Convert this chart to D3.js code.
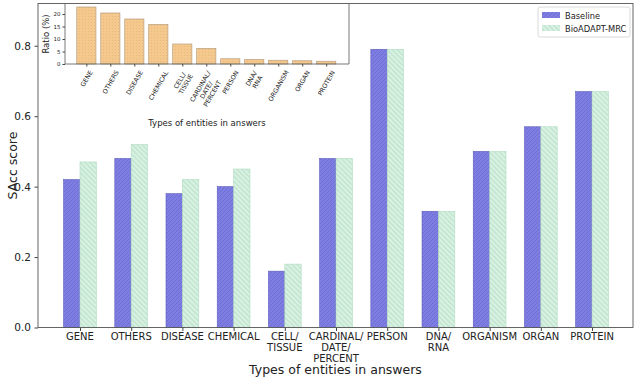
<!DOCTYPE html>
<html>
<head>
<meta charset="utf-8">
<script src="https://cdn.jsdelivr.net/npm/d3@7"></script>
<style>
  body { margin: 0; background: #fff; }
  text { font-family: "DejaVu Sans", sans-serif; fill: #222; }
</style>
</head>
<body>
<script>
// values
var categories = ['GENE', 'OTHERS', 'DISEASE', 'CHEMICAL', 'CELL/\nTISSUE',
    'CARDINAL/\nDATE/\nPERCENT', 'PERSON', 'DNA/\nRNA', 'ORGANISM', 'ORGAN', 'PROTEIN'];
var baseline = [0.42, 0.48, 0.38, 0.40, 0.16, 0.48, 0.79, 0.33, 0.50, 0.57, 0.67];
var bioadapt = [0.47, 0.52, 0.42, 0.45, 0.18, 0.48, 0.79, 0.33, 0.50, 0.57, 0.67];
var ratio = [22.8, 20.4, 18.0, 15.8, 8.0, 6.2, 2.1, 1.8, 1.5, 1.3, 1.1];
var yTicks = [0.0, 0.2, 0.4, 0.6, 0.8];
var ratioTicks = [0, 5, 10, 15, 20];
var seriesNames = ['Baseline', 'BioADAPT-MRC'];

var width = 638, height = 380;
var margin = {left: 38, right: 633, top: 3.5, bottom: 327.5};

var svg = d3.select('body').append('svg')
    .attr('width', width)
    .attr('height', height);

// hatch patterns
var defs = svg.append('defs');
var pBlue = defs.append('pattern').attr('id', 'hBlue')
    .attr('patternUnits', 'userSpaceOnUse').attr('width', 4).attr('height', 4);
pBlue.append('rect').attr('width', 4).attr('height', 4).attr('fill', '#7d7de2');
pBlue.append('path').attr('d', 'M0,4 L4,0 M-1,1 L1,-1 M3,5 L5,3')
    .attr('stroke', '#6b6bd0').attr('stroke-width', 0.8);

var pGreen = defs.append('pattern').attr('id', 'hGreen')
    .attr('patternUnits', 'userSpaceOnUse').attr('width', 5).attr('height', 5);
pGreen.append('rect').attr('width', 5).attr('height', 5).attr('fill', '#c4e8d2');
pGreen.append('path').attr('d', 'M0,0 L5,5 M-1,4 L1,6 M4,-1 L6,1')
    .attr('stroke', '#e6f5ec').attr('stroke-width', 1.2);

var pOrange = defs.append('pattern').attr('id', 'hOrange')
    .attr('patternUnits', 'userSpaceOnUse').attr('width', 3).attr('height', 3);
pOrange.append('rect').attr('width', 3).attr('height', 3).attr('fill', '#f5c98e');
pOrange.append('circle').attr('cx', 1.5).attr('cy', 1.5).attr('r', 0.5).attr('fill', '#e3b477');

// ---- main axes ----
var x = d3.scaleLinear().domain([-0.82, 10.8]).range([margin.left, margin.right]);
var y = d3.scaleLinear().domain([0, 0.92]).range([margin.bottom, margin.top]);
var bw = x(0.32) - x(0);

var main = svg.append('g');

main.selectAll('rect.base')
    .data(baseline)
    .enter().append('rect')
    .attr('class', 'base')
    .attr('x', function(d, i) { return x(i) - bw; })
    .attr('y', function(d) { return y(d); })
    .attr('width', bw)
    .attr('height', function(d) { return y(0) - y(d); })
    .attr('fill', 'url(#hBlue)')
    .attr('stroke', '#5c5cb8')
    .attr('stroke-width', 0.6);

main.selectAll('rect.bio')
    .data(bioadapt)
    .enter().append('rect')
    .attr('class', 'bio')
    .attr('x', function(d, i) { return x(i); })
    .attr('y', function(d) { return y(d); })
    .attr('width', bw)
    .attr('height', function(d) { return y(0) - y(d); })
    .attr('fill', 'url(#hGreen)')
    .attr('stroke', '#b0dcc2')
    .attr('stroke-width', 0.6);

// y axis
var yAxis = main.append('g')
    .attr('transform', 'translate(' + margin.left + ',0)')
    .call(d3.axisLeft(y).tickValues(yTicks).tickFormat(d3.format('.1f')).tickSize(3.5).tickPadding(3.5));
yAxis.select('.domain').remove();
yAxis.selectAll('line').attr('stroke', '#444');
yAxis.selectAll('text').style('font-size', '10.5px').attr('fill', '#222')
    .style('font-family', '"DejaVu Sans", sans-serif');

// x axis
var xAxis = main.append('g')
    .attr('transform', 'translate(0,' + margin.bottom + ')')
    .call(d3.axisBottom(x).tickValues(d3.range(categories.length)).tickFormat('').tickSize(3.5));
xAxis.select('.domain').remove();
xAxis.selectAll('line').attr('stroke', '#444');

categories.forEach(function(c, i) {
    var t = main.append('text')
        .attr('text-anchor', 'middle')
        .attr('x', x(i))
        .attr('y', margin.bottom + 12)
        .style('font-size', '10px');
    c.split('\n').forEach(function(line, j) {
        t.append('tspan').attr('x', x(i)).attr('dy', j === 0 ? 0 : 11).text(line);
    });
});

// frame
main.append('rect')
    .attr('x', margin.left).attr('y', margin.top)
    .attr('width', margin.right - margin.left).attr('height', margin.bottom - margin.top)
    .attr('fill', 'none').attr('stroke', '#555').attr('stroke-width', 0.9);

main.append('text')
    .attr('x', (margin.left + margin.right) / 2).attr('y', 374)
    .attr('text-anchor', 'middle')
    .style('font-size', '12.5px')
    .text('Types of entities in answers');

main.append('text')
    .attr('transform', 'translate(16.5,' + ((margin.top + margin.bottom) / 2) + ') rotate(-90)')
    .attr('text-anchor', 'middle')
    .style('font-size', '12.5px')
    .text('SAcc score');

// legend
var lg = main.append('g').attr('transform', 'translate(538,7)');
lg.append('rect').attr('width', 92).attr('height', 30).attr('rx', 2)
    .attr('fill', '#fff').attr('stroke', '#d0d0d0').attr('stroke-width', 0.8);
var fills = ['url(#hBlue)', 'url(#hGreen)'];
seriesNames.forEach(function(n, i) {
    lg.append('rect').attr('x', 4).attr('y', 5 + i * 13).attr('width', 18).attr('height', 6)
        .attr('fill', fills[i]);
    lg.append('text').attr('x', 27).attr('y', 11.5 + i * 13)
        .style('font-size', '8.3px').text(n);
});

// ---- inset axes ----
var inner = {left: 65, right: 349, top: 4, bottom: 64};
var ix = d3.scaleLinear().domain([-0.89, 10.95]).range([inner.left, inner.right]);
var iy = d3.scaleLinear().domain([0, 24]).range([inner.bottom, inner.top]);
var ibw = ix(0.8) - ix(0);

var inset = svg.append('g');

inset.selectAll('rect.ratio')
    .data(ratio)
    .enter().append('rect')
    .attr('class', 'ratio')
    .attr('x', function(d, i) { return ix(i) - ibw / 2; })
    .attr('y', function(d) { return iy(d); })
    .attr('width', ibw)
    .attr('height', function(d) { return iy(0) - iy(d); })
    .attr('fill', 'url(#hOrange)')
    .attr('stroke', '#b89d80')
    .attr('stroke-width', 0.7);

var iyAxis = inset.append('g')
    .attr('transform', 'translate(' + inner.left + ',0)')
    .call(d3.axisLeft(iy).tickValues(ratioTicks).tickSize(2.5).tickPadding(2));
iyAxis.select('.domain').remove();
iyAxis.selectAll('line').attr('stroke', '#444');
iyAxis.selectAll('text').style('font-size', '5.5px').attr('fill', '#333')
    .style('font-family', '"DejaVu Sans", sans-serif');

var ixAxis = inset.append('g')
    .attr('transform', 'translate(0,' + inner.bottom + ')')
    .call(d3.axisBottom(ix).tickValues(d3.range(categories.length)).tickFormat('').tickSize(2.5));
ixAxis.select('.domain').remove();
ixAxis.selectAll('line').attr('stroke', '#444');

// rotated tick labels, bbox centred under the tick
categories.forEach(function(c, i) {
    var outer = inset.append('g').attr('transform', 'translate(' + ix(i) + ',' + (inner.bottom + 5) + ')');
    var mid = outer.append('g');
    var t = mid.append('g').attr('transform', 'rotate(-60)')
        .append('text').attr('text-anchor', 'middle').style('font-size', '6.3px').attr('fill', '#333');
    c.split('\n').forEach(function(line, j) {
        t.append('tspan').attr('x', 0).attr('dy', j === 0 ? 0 : 7).text(line);
    });
    var bb = mid.node().getBBox();
    mid.attr('transform', 'translate(' + (-(bb.x + bb.width / 2)) + ',' + (-bb.y) + ')');
});

inset.append('path')
    .attr('d', 'M' + inner.left + ',' + inner.top + 'V' + inner.bottom + 'H' + inner.right + 'V' + inner.top)
    .attr('fill', 'none').attr('stroke', '#555').attr('stroke-width', 0.8);

inset.append('text')
    .attr('x', (inner.left + inner.right) / 2).attr('y', 126)
    .attr('text-anchor', 'middle')
    .style('font-size', '8.5px')
    .text('Types of entities in answers');

inset.append('text')
    .attr('transform', 'translate(49,' + ((inner.top + inner.bottom) / 2) + ') rotate(-90)')
    .attr('text-anchor', 'middle')
    .style('font-size', '8.5px')
    .text('Ratio (%)');
</script>
</body>
</html>
